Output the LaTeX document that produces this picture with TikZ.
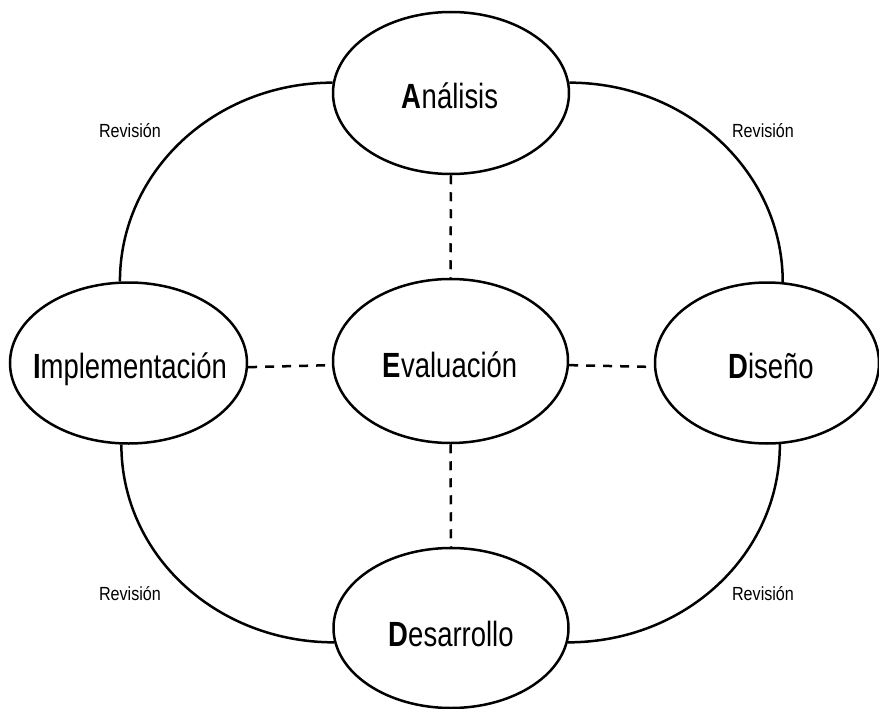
\documentclass[tikz,border=0pt]{standalone}
\usepackage{fontspec}
\setmainfont{Liberation Sans}[FakeStretch=0.785]
\newfontfamily\revfont{Liberation Sans}[FakeStretch=0.85]
\usetikzlibrary{shapes.geometric}
\begin{document}
\begin{tikzpicture}[x=1pt,y=-1pt,
  phase/.style={draw, ellipse, line width=2.5pt, inner sep=0pt},
  phasetext/.style={anchor=base, inner sep=0pt, font=\fontsize{35}{40}\selectfont},
  revtext/.style={anchor=base, inner sep=0pt, font=\revfont\fontsize{19}{22}\selectfont},
  link/.style={line width=2.5pt},
  dashlink/.style={line width=2.5pt, dash pattern=on 9pt off 8pt}]
\useasboundingbox (0,0) rectangle (879,709);
\node[phase, minimum width=236pt, minimum height=162pt] (ana) at (451,93) {};
\node[phase, minimum width=237pt, minimum height=161pt] (imp) at (128.5,363) {};
\node[phase, minimum width=235pt, minimum height=164pt] (eva) at (450.5,361) {};
\node[phase, minimum width=224pt, minimum height=161pt] (dis) at (767,363) {};
\node[phase, minimum width=235pt, minimum height=160pt] (des) at (451,628) {};
\node[phasetext] (anat) at (450,108) {\textbf{A}nálisis};
\node[phasetext] (impt) at (130,378) {\textbf{I}mplementación};
\node[phasetext] (evat) at (450,377) {\textbf{E}valuación};
\node[phasetext] (dist) at (771,378) {\textbf{D}iseño};
\node[phasetext] (dest) at (451,646) {\textbf{D}esarrollo};
\node[revtext] (r1) at (130,137) {Revisión};
\node[revtext] (r2) at (763,137) {Revisión};
\node[revtext] (r3) at (130,600) {Revisión};
\node[revtext] (r4) at (763,600) {Revisión};
\draw[link] (ana.175) .. controls +(-118,0) and +(0,-110) .. (imp.96);
\draw[link] (ana.5) .. controls +(118,0) and +(0,-110) .. (dis.79);
\draw[link] (imp.265) .. controls +(0,110) and +(-118,0) .. (des.187);
\draw[link] (dis.279) .. controls +(0,110) and +(118,0) .. (des.353);
\draw[dashlink] (ana.south) -- (eva.north);
\draw[dashlink] (eva.south) -- (des.north);
\draw[dashlink] (imp.-2) -- (eva.182);
\draw[dashlink] (eva.-2) -- (dis.182);
\end{tikzpicture}
\end{document}
